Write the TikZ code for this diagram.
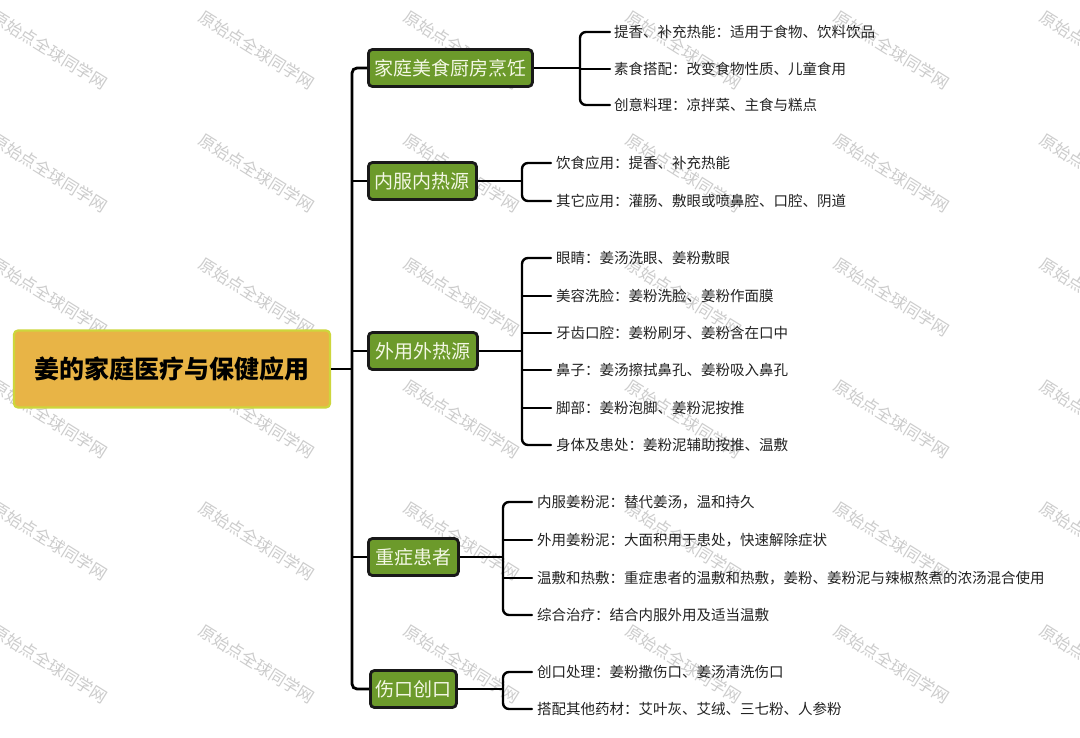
\documentclass[tikz,border=0pt]{standalone}
\usepackage{fontspec}
\newfontfamily\cjk{Noto Sans CJK SC}
\definecolor{rootfill}{HTML}{E8B446}
\definecolor{rootline}{HTML}{CDD63C}
\definecolor{brfill}{HTML}{6C9A2B}
\definecolor{brtext}{HTML}{F3F7E4}
\definecolor{leaftext}{HTML}{222222}
\definecolor{wm}{HTML}{CCCCCC}
\tikzset{
  rootbox/.style={draw=rootline, line width=2.2pt, fill=rootfill, rounded corners=4pt,
    minimum width=316pt, minimum height=77pt, inner sep=0pt,
    font=\cjk\bfseries\fontsize{25}{28}\selectfont, text=black},
  brbox/.style={draw=black!90, line width=2.8pt, fill=brfill, rounded corners=4pt,
    minimum height=37pt, inner sep=0pt, text=brtext,
    font=\cjk\fontsize{19}{22}\selectfont},
  leaf/.style={inner sep=0pt, anchor=west, text=leaftext,
    font=\cjk\fontsize{14.5}{17}\selectfont},
  trunkline/.style={line width=2.8pt, black, rounded corners=5pt},
  brk/.style={line width=2.4pt, black, rounded corners=6pt, line cap=round},
  wmark/.style={text=wm, rotate=-32, font=\cjk\fontsize{16.5}{18}\selectfont}
}
\begin{document}
\begin{tikzpicture}[x=1pt,y=-1pt]
\useasboundingbox[fill=white] (0,0) rectangle (1080,737);

% watermarks (behind everything)
\foreach \cx in {50,257,462,684,892,1098} {
  \foreach \cy in {50,173,297,419,541,664} {
    \node[wmark] at (\cx,\cy) {原始点全球同学网};
  }
}

% root
\node[rootbox] (root) at (172,369) {姜的家庭医疗与保健应用};

% branches
\node[brbox, minimum width=164pt, anchor=west] (b1) at (367,68) {家庭美食厨房烹饪};
\node[brbox, minimum width=108pt, anchor=west] (b2) at (367,181) {内服内热源};
\node[brbox, minimum width=109pt, anchor=west] (b3) at (367,351) {外用外热源};
\node[brbox, minimum width=90pt, anchor=west] (b4) at (367,557) {重症患者};
\node[brbox, minimum width=86pt, anchor=west] (b5) at (369,689) {伤口创口};

% trunk
\coordinate (t) at (352,369);
\draw[trunkline] (b1.west) -| (t) |- (b5.west);
\draw[line width=2.8pt] (root.east) -- (t);
\draw[line width=2.8pt] (t |- b2.west) -- (b2.west);
\draw[line width=2.8pt] (t |- b3.west) -- (b3.west);
\draw[line width=2.8pt] (t |- b4.west) -- (b4.west);

% leaves group 1
\node[leaf] (l11) at (614,32) {提香、补充热能：适用于食物、饮料饮品};
\node[leaf] (l12) at (614,69) {素食搭配：改变食物性质、儿童食用};
\node[leaf] (l13) at (614,105) {创意料理：凉拌菜、主食与糕点};
\coordinate (j1) at (580,68);
\draw[line width=2.8pt] (b1.east) -- (j1);
\draw[brk] ([xshift=-4pt]l11.west) -| (j1) |- ([xshift=-4pt]l13.west);
\draw[brk] (j1 |- l12.west) -- ([xshift=-4pt]l12.west);

% leaves group 2
\node[leaf] (l21) at (556,163) {饮食应用：提香、补充热能};
\node[leaf] (l22) at (556,201) {其它应用：灌肠、敷眼或喷鼻腔、口腔、阴道};
\coordinate (j2) at (522,181);
\draw[line width=2.8pt] (b2.east) -- (j2);
\draw[brk] ([xshift=-5pt]l21.west) -| (j2) |- ([xshift=-5pt]l22.west);

% leaves group 3
\node[leaf] (l31) at (556,258) {眼睛：姜汤洗眼、姜粉敷眼};
\node[leaf] (l32) at (556,296) {美容洗脸：姜粉洗脸、姜粉作面膜};
\node[leaf] (l33) at (556,333) {牙齿口腔：姜粉刷牙、姜粉含在口中};
\node[leaf] (l34) at (556,370) {鼻子：姜汤擦拭鼻孔、姜粉吸入鼻孔};
\node[leaf] (l35) at (556,408) {脚部：姜粉泡脚、姜粉泥按推};
\node[leaf] (l36) at (556,445) {身体及患处：姜粉泥辅助按推、温敷};
\coordinate (j3) at (522,351);
\draw[line width=2.8pt] (b3.east) -- (j3);
\draw[brk] ([xshift=-5pt]l31.west) -| (j3) |- ([xshift=-5pt]l36.west);
\draw[brk] (j3 |- l32.west) -- ([xshift=-5pt]l32.west);
\draw[brk] (j3 |- l33.west) -- ([xshift=-5pt]l33.west);
\draw[brk] (j3 |- l34.west) -- ([xshift=-5pt]l34.west);
\draw[brk] (j3 |- l35.west) -- ([xshift=-5pt]l35.west);

% leaves group 4
\node[leaf] (l41) at (537,502) {内服姜粉泥：替代姜汤，温和持久};
\node[leaf] (l42) at (537,540) {外用姜粉泥：大面积用于患处，快速解除症状};
\node[leaf] (l43) at (537,578) {温敷和热敷：重症患者的温敷和热敷，姜粉、姜粉泥与辣椒熬煮的浓汤混合使用};
\node[leaf] (l44) at (537,615) {综合治疗：结合内服外用及适当温敷};
\coordinate (j4) at (503,557);
\draw[line width=2.8pt] (b4.east) -- (j4);
\draw[brk] ([xshift=-5pt]l41.west) -| (j4) |- ([xshift=-5pt]l44.west);
\draw[brk] (j4 |- l42.west) -- ([xshift=-5pt]l42.west);
\draw[brk] (j4 |- l43.west) -- ([xshift=-5pt]l43.west);

% leaves group 5
\node[leaf] (l51) at (537,672) {创口处理：姜粉撒伤口、姜汤清洗伤口};
\node[leaf] (l52) at (537,709) {搭配其他药材：艾叶灰、艾绒、三七粉、人参粉};
\coordinate (j5) at (503,689);
\draw[line width=2.8pt] (b5.east) -- (j5);
\draw[brk] ([xshift=-5pt]l51.west) -| (j5) |- ([xshift=-5pt]l52.west);
\end{tikzpicture}
\end{document}
